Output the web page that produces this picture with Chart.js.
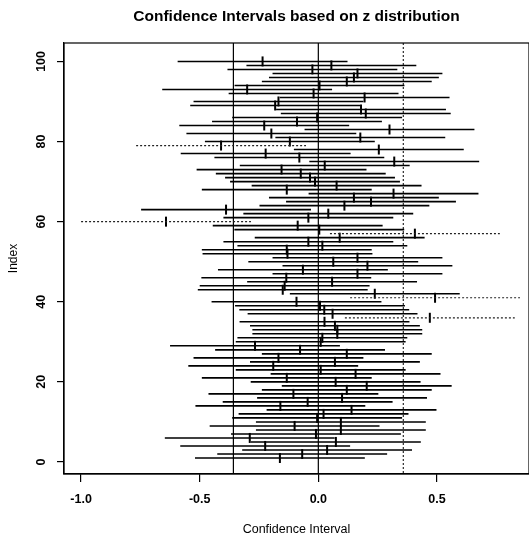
<!DOCTYPE html>
<html>
<head>
<meta charset="utf-8">
<script src="https://cdn.jsdelivr.net/npm/chart.js@4/dist/chart.umd.min.js"></script>
<style>
  html, body { margin: 0; padding: 0; background: #ffffff; }
  canvas { display: block; }
</style>
</head>
<body>
<canvas id="c" width="529" height="538"></canvas>
<script>
// ---------------- data ----------------
const indices = Array.from({ length: 100 }, (_, k) => k + 1);

// centre (sample mean) of each interval, index 1 .. 100
const centers = [
  -0.162, -0.068,  0.037, -0.224,  0.074, -0.289, -0.010,  0.095, -0.100,  0.095,
  -0.005,  0.022,  0.140, -0.160, -0.045,  0.100, -0.105,  0.120,  0.204,  0.073,
  -0.133,  0.157,  0.010, -0.190,  0.070, -0.168,  0.120, -0.077, -0.267,  0.010,
   0.017,  0.080,  0.080,  0.070,  0.026,  0.470,  0.060,  0.025,  0.007, -0.092,
   0.492,  0.238, -0.150, -0.142,  0.058, -0.135,  0.165, -0.065,  0.207,  0.063,
   0.165, -0.130, -0.133,  0.017, -0.042,  0.090,  0.407,  0.004, -0.087, -0.642,
  -0.042,  0.042, -0.389,  0.110,  0.222,  0.150,  0.317, -0.133,  0.077, -0.014,
  -0.035, -0.074, -0.155,  0.027,  0.320, -0.080, -0.222,  0.255, -0.410, -0.120,
   0.177, -0.198,  0.300, -0.228, -0.090, -0.005,  0.200,  0.180, -0.182, -0.168,
   0.195, -0.020, -0.300,  0.005,  0.120,  0.150,  0.165, -0.025,  0.055, -0.235
];

// half width of every z interval
const marginOfError = 0.358;

// intervals drawn dotted (they miss the reference value)
const missedIndices = [36, 41, 57, 60, 79];

// reference vertical lines
const refSolid  = [-0.358, 0.0];
const refDotted = [0.358];

// tick labels
const xTickValues = [-1.0, -0.5, 0.0, 0.5];
const yTickValues = [0, 20, 40, 60, 80, 100];

// ---------------- build datasets ----------------
const solidPts = [];
const dottedPts = [];
indices.forEach((idx, k) => {
  const c = centers[k];
  const target = missedIndices.includes(idx) ? dottedPts : solidPts;
  target.push({ x: c - marginOfError, y: idx }, { x: c + marginOfError, y: idx }, { x: null, y: null });
});
const centerPts = indices.map((idx, k) => ({ x: centers[k], y: idx }));

const FONT = "'Liberation Sans', Arial, Helvetica, sans-serif";
Chart.defaults.font.family = FONT;
Chart.defaults.color = '#000';

const framePlugin = {
  id: 'frame',
  beforeDatasetsDraw(chart) {
    const { ctx, chartArea: a, scales: { x } } = chart;
    ctx.save();
    ctx.strokeStyle = '#000';
    ctx.lineWidth = 1.2;
    refSolid.forEach(v => {
      const px = x.getPixelForValue(v);
      ctx.beginPath(); ctx.moveTo(px, a.top); ctx.lineTo(px, a.bottom); ctx.stroke();
    });
    ctx.setLineDash([2, 2]);
    ctx.lineWidth = 1;
    refDotted.forEach(v => {
      const px = x.getPixelForValue(v);
      ctx.beginPath(); ctx.moveTo(px, a.top); ctx.lineTo(px, a.bottom); ctx.stroke();
    });
    ctx.restore();
  },
  afterDraw(chart) {
    const { ctx, chartArea: a, scales: { y } } = chart;
    ctx.save();
    ctx.strokeStyle = '#000';
    ctx.lineWidth = 1.2;
    ctx.strokeRect(a.left, a.top, a.right - a.left, a.bottom - a.top);
    // rotated y tick labels (R style)
    ctx.fillStyle = '#000';
    ctx.font = 'bold 12.5px ' + FONT;
    ctx.textAlign = 'center';
    ctx.textBaseline = 'middle';
    yTickValues.forEach(v => {
      const py = y.getPixelForValue(v);
      ctx.save();
      ctx.translate(42, py);
      ctx.rotate(-Math.PI / 2);
      ctx.fillText(String(v), 0, 0);
      ctx.restore();
    });
    ctx.restore();
  }
};

new Chart(document.getElementById('c'), {
  type: 'scatter',
  data: {
    datasets: [
      {
        label: 'intervals',
        data: solidPts,
        showLine: true,
        spanGaps: false,
        borderColor: '#000',
        borderWidth: 1.6,
        pointRadius: 0,
        pointHoverRadius: 0
      },
      {
        label: 'missed intervals',
        data: dottedPts,
        showLine: true,
        spanGaps: false,
        borderColor: '#222',
        borderWidth: 1.2,
        borderDash: [2, 2],
        pointRadius: 0,
        pointHoverRadius: 0
      },
      {
        label: 'centres',
        data: centerPts,
        showLine: false,
        pointStyle: 'line',
        pointRotation: 90,
        pointRadius: 5,
        pointBorderWidth: 2,
        pointBorderColor: '#000',
        borderColor: '#000'
      }
    ]
  },
  options: {
    responsive: false,
    devicePixelRatio: 1,
    animation: false,
    layout: { padding: 0, autoPadding: false },
    plugins: {
      legend: { display: false },
      tooltip: { enabled: false },
      title: {
        display: true,
        text: 'Confidence Intervals based on z distribution',
        fullSize: false,
        color: '#000',
        font: { size: 15.5, weight: 'bold', family: FONT },
        padding: { top: 7, bottom: 17.4 }
      }
    },
    scales: {
      x: {
        type: 'linear',
        min: -1.072,
        max: 0.888,
        afterBuildTicks: s => { s.ticks = xTickValues.map(v => ({ value: v })); },
        afterFit: s => { s.height = 64; s.paddingLeft = 0; s.paddingRight = 0; },
        grid: { display: true, drawOnChartArea: false, drawTicks: true, tickLength: 8, color: '#000', lineWidth: 1.2 },
        border: { display: true, color: '#000', width: 1.2 },
        ticks: {
          padding: 10, color: '#000', autoSkip: false, maxRotation: 0,
          font: { size: 12.5, weight: 'bold', family: FONT },
          callback: v => Number(v).toFixed(1)
        },
        title: {
          display: true, text: 'Confidence Interval', color: '#000',
          font: { size: 12.5, family: FONT }, padding: { top: 0, bottom: 1 }
        }
      },
      y: {
        type: 'linear',
        min: -3.0,
        max: 104.6,
        afterBuildTicks: s => { s.ticks = yTickValues.map(v => ({ value: v })); },
        afterFit: s => { s.width = 64; s.paddingTop = 0; s.paddingBottom = 0; },
        grid: { display: true, drawOnChartArea: false, drawTicks: true, tickLength: 7, color: '#000', lineWidth: 1.2 },
        border: { display: true, color: '#000', width: 1.2 },
        ticks: { display: false },
        title: {
          display: true, text: 'Index', color: '#000',
          font: { size: 12, family: FONT }, padding: { top: 6, bottom: 0 }
        }
      }
    }
  },
  plugins: [framePlugin]
});
</script>
</body>
</html>
